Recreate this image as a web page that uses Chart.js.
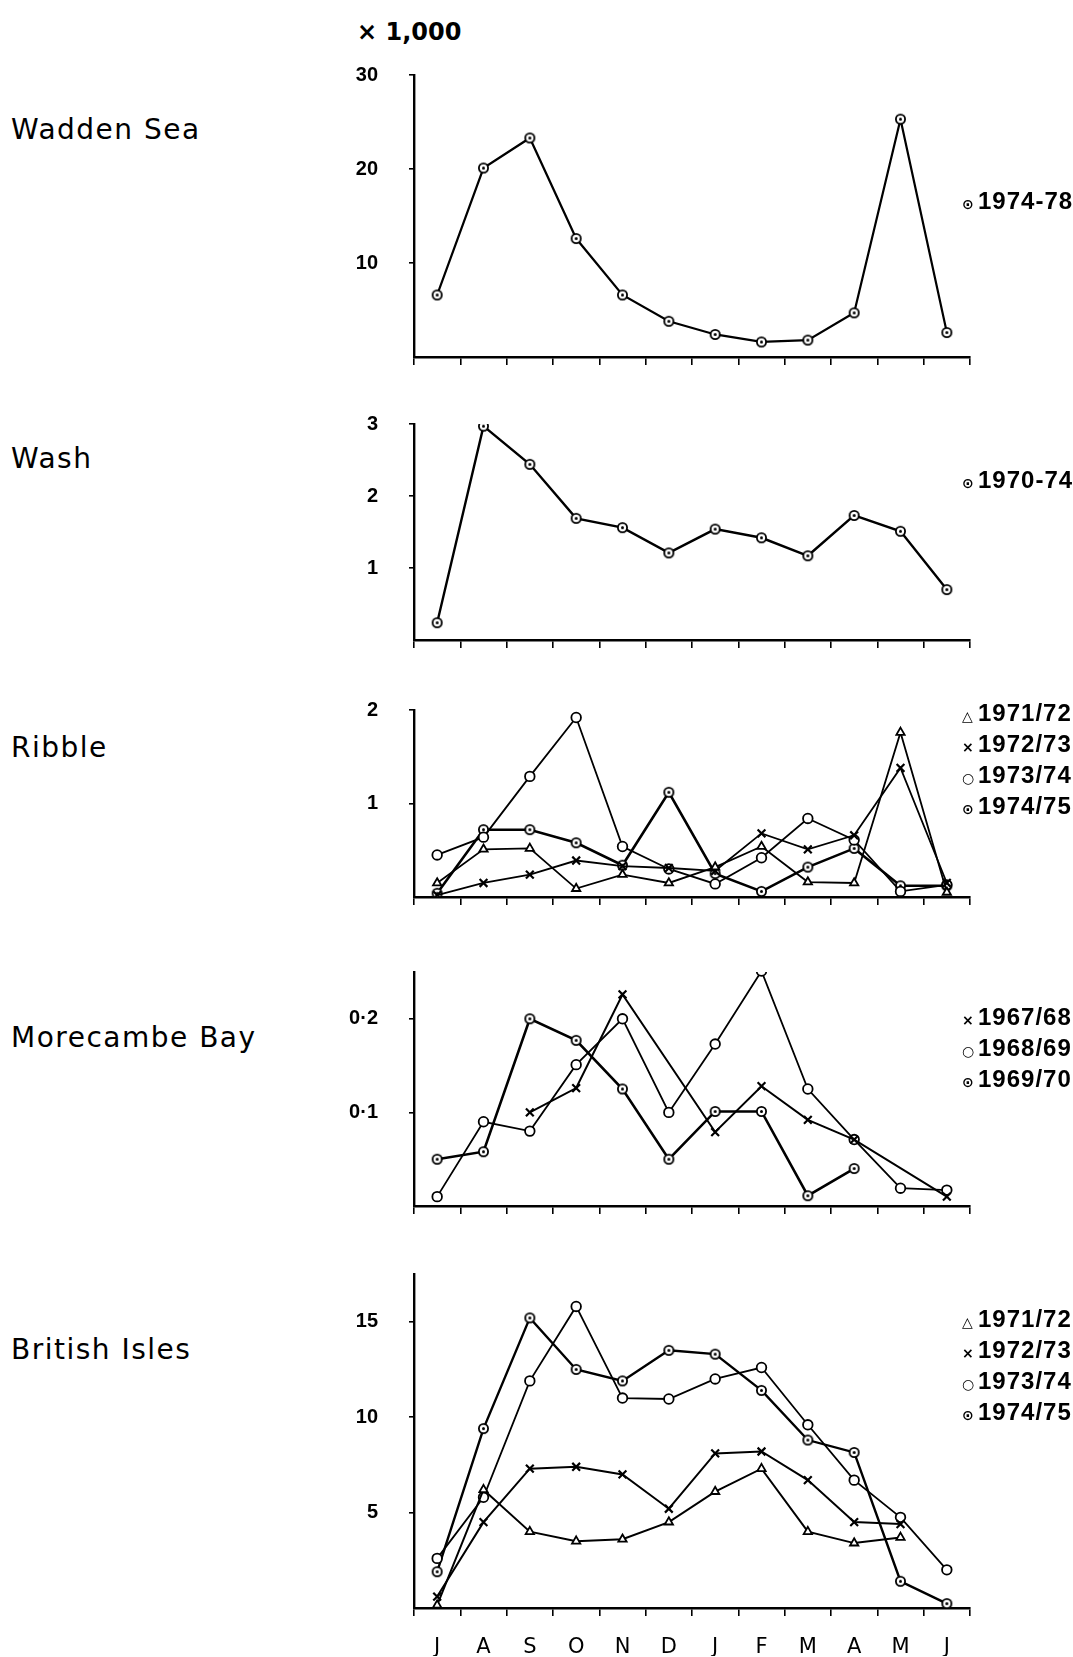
<!DOCTYPE html>
<html>
<head>
<meta charset="utf-8">
<script src="https://cdn.jsdelivr.net/npm/chart.js@4.4.1/dist/chart.umd.min.js"></script>
<style>
  body { margin: 0; width: 1073px; height: 1657px; background: #fff; position: relative; overflow: hidden; font-family: "DejaVu Sans", sans-serif; color: #000; }
  canvas { position: absolute; left: 300px; }
  .site { position: absolute; left: 11px; font-size: 28px; transform: translateY(-50%); letter-spacing: 1.5px; white-space: nowrap; }
  .unit { position: absolute; left: 357px; top: 32px; transform: translateY(-50%); font-weight: bold; font-size: 24px; }
  .legend { position: absolute; left: 962px; font-family: "Liberation Sans Narrow", sans-serif; font-weight: bold; font-size: 24px; letter-spacing: 1px; white-space: nowrap; }
  .legend div { height: 31px; line-height: 31px; }
  .sym { display: inline-block; width: 16px; font-family: "DejaVu Sans", sans-serif; font-size: 14px; font-weight: bold; letter-spacing: 0; }
</style>
</head>
<body>
<div class="unit">× 1,000</div>

<div class="site" style="top:129px">Wadden Sea</div>
<div class="site" style="top:458px">Wash</div>
<div class="site" style="top:747px">Ribble</div>
<div class="site" style="top:1037px">Morecambe Bay</div>
<div class="site" style="top:1349px">British Isles</div>

<canvas id="wadden" width="680" height="382" style="top:25px"></canvas>
<canvas id="wash" width="680" height="316" style="top:374px"></canvas>
<canvas id="ribble" width="680" height="287" style="top:660px"></canvas>
<canvas id="morecambe" width="680" height="334" style="top:922px"></canvas>
<canvas id="british" width="680" height="434" style="top:1224px"></canvas>

<div class="legend" style="top:185px"><div><span class="sym">⊙</span>1974-78</div></div>
<div class="legend" style="top:464px"><div><span class="sym">⊙</span>1970-74</div></div>
<div class="legend" style="top:697px">
  <div><span class="sym">△</span>1971/72</div>
  <div><span class="sym">×</span>1972/73</div>
  <div><span class="sym">○</span>1973/74</div>
  <div><span class="sym">⊙</span>1974/75</div>
</div>
<div class="legend" style="top:1001px">
  <div><span class="sym">×</span>1967/68</div>
  <div><span class="sym">○</span>1968/69</div>
  <div><span class="sym">⊙</span>1969/70</div>
</div>
<div class="legend" style="top:1303px">
  <div><span class="sym">△</span>1971/72</div>
  <div><span class="sym">×</span>1972/73</div>
  <div><span class="sym">○</span>1973/74</div>
  <div><span class="sym">⊙</span>1974/75</div>
</div>

<script>
// months July..June
const months = ['J', 'A', 'S', 'O', 'N', 'D', 'J', 'F', 'M', 'A', 'M', 'J'];

// Wadden Sea (x1000)
const wadden7478 = [6.6, 20.1, 23.3, 12.6, 6.6, 3.8, 2.4, 1.6, 1.8, 4.7, 25.3, 2.6];
const waddenTicks = [10, 20, 30];

// Wash
const wash7074 = [0.24, 2.97, 2.44, 1.69, 1.56, 1.21, 1.54, 1.42, 1.17, 1.73, 1.51, 0.7];
const washTicks = [1, 2, 3];

// Ribble
const ribble7172 = [0.15, 0.51, 0.52, 0.09, 0.24, 0.15, 0.32, 0.54, 0.16, 0.15, 1.76, 0.05];
const ribble7273 = [0.02, 0.15, 0.24, 0.39, 0.33, 0.31, 0.28, 0.68, 0.51, 0.66, 1.38, 0.15];
const ribble7374 = [0.45, 0.64, 1.29, 1.92, 0.54, 0.3, 0.14, 0.42, 0.84, 0.61, 0.06, 0.13];
const ribble7475 = [0.04, 0.72, 0.72, 0.58, 0.34, 1.12, 0.25, 0.06, 0.32, 0.52, 0.12, 0.12];
const ribbleTicks = [1, 2];

// Morecambe Bay
const more6768 = [null, null, 0.1, 0.126, 0.226, null, 0.079, 0.128, 0.092, 0.071, null, 0.01];
const more6869 = [0.01, 0.09, 0.08, 0.151, 0.2, 0.1, 0.173, 0.251, 0.125, 0.071, 0.019, 0.017];
const more6970 = [0.05, 0.058, 0.2, 0.177, 0.125, 0.05, 0.101, 0.101, 0.011, 0.04, null, null];
const moreTicks = [0.1, 0.2];

// British Isles
const brit7172 = [0.15, 6.2, 4.0, 3.5, 3.6, 4.5, 6.1, 7.3, 4.0, 3.4, 3.7, null];
const brit7273 = [0.6, 4.5, 7.3, 7.4, 7.0, 5.2, 8.1, 8.2, 6.7, 4.5, 4.4, null];
const brit7374 = [2.6, 5.8, 11.9, 15.8, 11.0, 10.95, 12.0, 12.6, 9.6, 6.7, 4.75, 2.0];
const brit7475 = [1.9, 9.4, 15.2, 12.5, 11.9, 13.5, 13.3, 11.4, 8.8, 8.15, 1.4, 0.23];
const britTicks = [5, 10, 15];

// circle with a dot in the middle
const dotCircle = document.createElement('canvas');
dotCircle.width = 13; dotCircle.height = 13;
(function () {
    const c = dotCircle.getContext('2d');
    c.beginPath();
    c.arc(6.5, 6.5, 4.6, 0, Math.PI * 2);
    c.fillStyle = '#fff';
    c.fill();
    c.lineWidth = 1.8;
    c.strokeStyle = '#000';
    c.stroke();
    c.beginPath();
    c.arc(6.5, 6.5, 1.5, 0, Math.PI * 2);
    c.fillStyle = '#000';
    c.fill();
})();

function series(label, data, marker, width) {
    const isCross = marker === 'crossRot';
    return {
        label: label,
        data: data,
        borderColor: '#000',
        borderWidth: width,
        pointStyle: marker === 'dot' ? dotCircle : marker,
        pointRadius: isCross ? 5.5 : 4.8,
        pointBorderWidth: isCross ? 2.2 : 1.8,
        pointBackgroundColor: '#fff',
        pointBorderColor: '#000',
        spanGaps: true,
        tension: 0
    };
}

const tickFont = { family: '"Liberation Sans Narrow", sans-serif', size: 20, weight: 'bold' };

// padding of 50 on top and bottom keeps the plot area fixed whatever the label sizes
function panel(id, datasets, yMax, yTicks, fmt, showMonths) {
    new Chart(document.getElementById(id), {
        type: 'line',
        data: { labels: months, datasets: datasets },
        options: {
            responsive: false,
            animation: false,
            layout: { padding: { top: 50, right: 10, bottom: showMonths ? 2 : 40, left: 0 } },
            plugins: { legend: { display: false }, tooltip: { enabled: false } },
            scales: {
                x: {
                    type: 'category',
                    offset: true,
                    grid: { offset: true, drawOnChartArea: false, drawTicks: true, tickLength: 8, color: '#000', lineWidth: 1.6 },
                    border: { display: true, color: '#000', width: 2.4 },
                    ticks: {
                        display: showMonths,
                        padding: 19,
                        color: '#000',
                        font: { family: '"DejaVu Sans", sans-serif', size: 21 }
                    },
                    afterFit: s => { s.height = showMonths ? 48 : 10; }
                },
                y: {
                    min: 0,
                    max: yMax,
                    afterBuildTicks: ax => { ax.ticks = yTicks.map(v => ({ value: v })); },
                    grid: { drawOnChartArea: false, drawTicks: true, tickLength: 5, color: '#000', lineWidth: 1.6 },
                    border: { display: true, color: '#000', width: 2.4 },
                    ticks: { padding: 31, color: '#000', font: tickFont, callback: fmt },
                    afterFit: s => { s.width = 114; }
                }
            }
        }
    });
}

const plain = v => String(v);
const decimal = v => v.toFixed(1).replace('.', '·');

panel('wadden', [series('1974-78', wadden7478, 'dot', 2.2)], 30, waddenTicks, plain, false);
panel('wash', [series('1970-74', wash7074, 'dot', 2.4)], 3, washTicks, plain, false);
panel('ribble', [
    series('1971/72', ribble7172, 'triangle', 1.8),
    series('1972/73', ribble7273, 'crossRot', 1.8),
    series('1973/74', ribble7374, 'circle', 1.8),
    series('1974/75', ribble7475, 'dot', 2.6)
], 2, ribbleTicks, plain, false);
panel('morecambe', [
    series('1967/68', more6768, 'crossRot', 2),
    series('1968/69', more6869, 'circle', 1.8),
    series('1969/70', more6970, 'dot', 2.6)
], 0.25, moreTicks, decimal, false);
panel('british', [
    series('1971/72', brit7172, 'triangle', 2),
    series('1972/73', brit7273, 'crossRot', 2),
    series('1973/74', brit7374, 'circle', 1.8),
    series('1974/75', brit7475, 'dot', 2.4)
], 17.5, britTicks, plain, true);
</script>
</body>
</html>
